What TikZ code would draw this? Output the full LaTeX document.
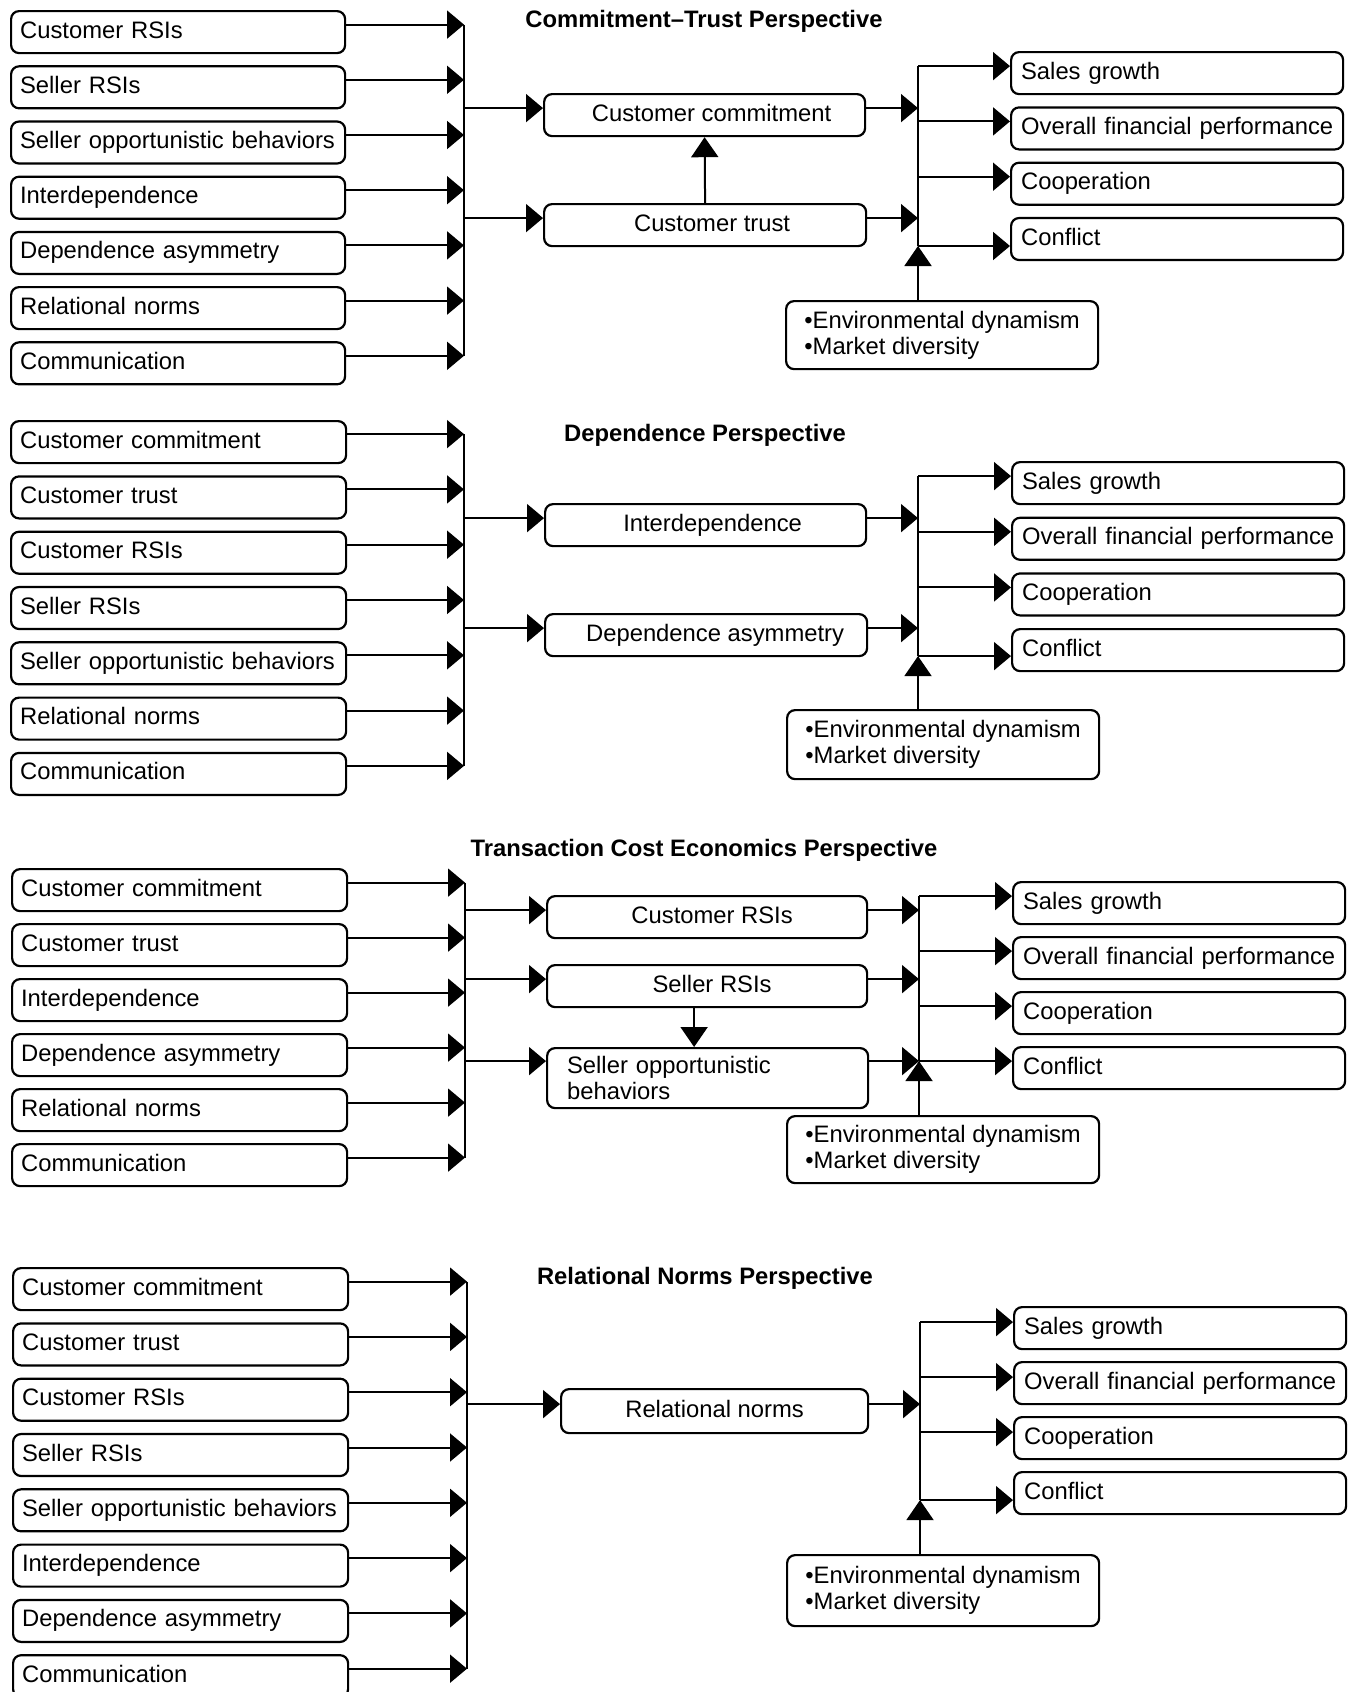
\documentclass[tikz,border=0pt]{standalone}
\usepackage{fontspec}
\setmainfont{Liberation Sans}
\usetikzlibrary{arrows.meta,calc}
\newcommand\myfs{\fontsize{23.8}{26}\selectfont}
\newcommand\myfsb{\fontsize{23.8}{26}\selectfont\bfseries}
\begin{document}
\begin{tikzpicture}[x=1pt,y=-1pt,
  ln/.style={line width=2pt},
  arr/.style={ln,-{Triangle[length=17pt,width=28pt]}},
  arrv/.style={ln,-{Triangle[length=20pt,width=27pt]}},
  bx/.style={draw,line width=2.2pt,rounded corners=8pt,minimum height=42pt,inner ysep=0pt,
    text height=17pt,text depth=5pt,font=\myfs,anchor=north west},
  lbx/.style={bx,inner xsep=9pt,align=left,text width=#1},
  rbx/.style={bx,inner xsep=10pt,align=left,text width=#1},
  mbx/.style={bx,inner xsep=2pt,minimum width=#1},
  modbx/.style={draw,line width=2.2pt,rounded corners=8pt,anchor=north west,minimum width=312pt,
    minimum height=#1,align=left,font=\myfs,inner sep=0pt},
  sobx/.style={draw,line width=2.2pt,rounded corners=8pt,anchor=north west,minimum height=60pt,
    text width=281pt,inner xsep=20pt,inner ysep=0pt,align=left,font=\myfs},
  ttl/.style={font=\myfsb,inner sep=0pt,text height=17pt,text depth=5pt}
]
\useasboundingbox (0,0) rectangle (1351,1692);
\fill[white] (0,0) rectangle (1351,1692);

%%%%%%%%%%%%%%%% Panel 1
\node[ttl] (H1) at (704,21) {Commitment–Trust Perspective};
\coordinate (J1) at (464,0);
\coordinate (K1) at (918,0);
\foreach \t [count=\i] in {Customer RSIs,Seller RSIs,Seller opportunistic behaviors,Interdependence,Dependence asymmetry,Relational norms,Communication}{
  \node[lbx=316pt] (P1L\i) at (10,{10+55.2*(\i-1)}) {\mbox{\t}};
  \coordinate (P1Ls\i) at ([yshift=7.5pt]P1L\i.east);
  \draw[arr] (P1Ls\i) -- (P1Ls\i -| J1);
}
\draw[ln] (P1Ls1 -| J1) -- (P1Ls7 -| J1);
\node[mbx=321pt] (P1C) at (543,93) {\hspace*{14pt}Customer commitment};
\node[mbx=322pt] (P1T) at (543,203) {\hspace*{14pt}Customer trust};
\coordinate (P1Cs) at ([yshift=7pt]P1C.west);
\coordinate (P1Ts) at ([yshift=7pt]P1T.west);
\draw[arr] (P1Cs -| J1) -- (P1Cs);
\draw[arr] (P1Ts -| J1) -- (P1Ts);
\draw[arrv] (P1T.north) -- (P1C.south);
\draw[arr] (P1Cs -| P1C.east) -- (P1Cs -| K1);
\draw[arr] (P1Ts -| P1T.east) -- (P1Ts -| K1);
\foreach \t [count=\i] in {Sales growth,Overall financial performance,Cooperation,Conflict}{
  \node[rbx=312pt] (P1R\i) at (1010,{51+55.3*(\i-1)}) {\mbox{\t}};
}
\foreach \i in {1,2,3}{\coordinate (P1Rs\i) at ([yshift=7pt]P1R\i.west);}
\coordinate (P1Rs4) at ([yshift=-7pt]P1R4.west);
\foreach \i in {1,...,4}{\draw[arr] (P1Rs\i -| K1) -- (P1Rs\i);}
\draw[ln] (P1Rs1 -| K1) -- (P1Rs4 -| K1);
\node[modbx=68pt] (P1M) at (785,300) {•Environmental dynamism\\•Market diversity};
\draw[arrv] (P1M.north -| K1) -- (P1Rs4 -| K1);

%%%%%%%%%%%%%%%% Panel 2
\node[ttl] (H2) at (705,435) {Dependence Perspective};
\coordinate (J2) at (464,0);
\coordinate (K2) at (918,0);
\foreach \t [count=\i] in {Customer commitment,Customer trust,Customer RSIs,Seller RSIs,Seller opportunistic behaviors,Relational norms,Communication}{
  \node[lbx=317pt] (P2L\i) at (10,{420+55.3*(\i-1)}) {\mbox{\t}};
  \coordinate (P2Ls\i) at ([yshift=8pt]P2L\i.east);
  \draw[arr] (P2Ls\i) -- (P2Ls\i -| J2);
}
\draw[ln] (P2Ls1 -| J2) -- (P2Ls7 -| J2);
\node[mbx=321pt] (P2I) at (544,503) {\hspace*{14pt}Interdependence};
\node[mbx=322pt] (P2D) at (544,613) {\hspace*{18pt}Dependence asymmetry};
\coordinate (P2Is) at ([yshift=7pt]P2I.west);
\coordinate (P2Ds) at ([yshift=7pt]P2D.west);
\draw[arr] (P2Is -| J2) -- (P2Is);
\draw[arr] (P2Ds -| J2) -- (P2Ds);
\draw[arr] (P2Is -| P2I.east) -- (P2Is -| K2);
\draw[arr] (P2Ds -| P2D.east) -- (P2Ds -| K2);
\foreach \t [count=\i] in {Sales growth,Overall financial performance,Cooperation,Conflict}{
  \node[rbx=312pt] (P2R\i) at (1011,{461+55.67*(\i-1)}) {\mbox{\t}};
}
\foreach \i in {1,2,3}{\coordinate (P2Rs\i) at ([yshift=7pt]P2R\i.west);}
\coordinate (P2Rs4) at ([yshift=-6pt]P2R4.west);
\foreach \i in {1,...,4}{\draw[arr] (P2Rs\i -| K2) -- (P2Rs\i);}
\draw[ln] (P2Rs1 -| K2) -- (P2Rs4 -| K2);
\node[modbx=69pt] (P2M) at (786,709) {•Environmental dynamism\\•Market diversity};
\draw[arrv] (P2M.north -| K2) -- (P2Rs4 -| K2);

%%%%%%%%%%%%%%%% Panel 3
\node[ttl] (H3) at (704,850) {Transaction Cost Economics Perspective};
\coordinate (J3) at (465,0);
\coordinate (K3) at (919,0);
\foreach \t [count=\i] in {Customer commitment,Customer trust,Interdependence,Dependence asymmetry,Relational norms,Communication}{
  \node[lbx=317pt] (P3L\i) at (11,{868+55*(\i-1)}) {\mbox{\t}};
  \coordinate (P3Ls\i) at ([yshift=7.5pt]P3L\i.east);
  \draw[arr] (P3Ls\i) -- (P3Ls\i -| J3);
}
\draw[ln] (P3Ls1 -| J3) -- (P3Ls6 -| J3);
\node[mbx=320pt] (P3C) at (546,895) {\hspace*{10pt}Customer RSIs};
\node[mbx=320pt] (P3S) at (546,964) {\hspace*{10pt}Seller RSIs};
\node[sobx] (P3O) at (546,1047) {Seller opportunistic\\behaviors};
\coordinate (P3Cs) at ([yshift=7pt]P3C.west);
\coordinate (P3Ss) at ([yshift=7pt]P3S.west);
\coordinate (P3Os) at ([yshift=17pt]P3O.west);
\draw[arr] (P3Cs -| J3) -- (P3Cs);
\draw[arr] (P3Ss -| J3) -- (P3Ss);
\draw[arr] (P3Os -| J3) -- (P3Os);
\draw[arrv] ([xshift=-13pt]P3S.south) -- ([xshift=-13pt]P3S.south |- P3O.north);
\draw[arr] (P3Cs -| P3C.east) -- (P3Cs -| K3);
\draw[arr] (P3Ss -| P3S.east) -- (P3Ss -| K3);
\draw[arr] (P3Os -| P3O.east) -- (P3Os -| K3);
\foreach \t [count=\i] in {Sales growth,Overall financial performance,Cooperation,Conflict}{
  \node[rbx=312pt] (P3R\i) at (1012,{881+55*(\i-1)}) {\mbox{\t}};
  \coordinate (P3Rs\i) at ([yshift=7pt]P3R\i.west);
  \draw[arr] (P3Rs\i -| K3) -- (P3Rs\i);
}
\draw[ln] (P3Rs1 -| K3) -- (P3Rs4 -| K3);
\node[modbx=67pt] (P3M) at (786,1115) {•Environmental dynamism\\•Market diversity};
\draw[arrv] (P3M.north -| K3) -- (P3Rs4 -| K3);

%%%%%%%%%%%%%%%% Panel 4
\node[ttl] (H4) at (705,1278) {Relational Norms Perspective};
\coordinate (J4) at (467,0);
\coordinate (K4) at (920,0);
\foreach \t [count=\i] in {Customer commitment,Customer trust,Customer RSIs,Seller RSIs,Seller opportunistic behaviors,Interdependence,Dependence asymmetry,Communication}{
  \node[lbx=317pt] (P4L\i) at (12,{1267+55.3*(\i-1)}) {\mbox{\t}};
  \coordinate (P4Ls\i) at ([yshift=7.5pt]P4L\i.east);
  \draw[arr] (P4Ls\i) -- (P4Ls\i -| J4);
}
\draw[ln] (P4Ls1 -| J4) -- (P4Ls8 -| J4);
\node[mbx=307pt,minimum height=44pt] (P4N) at (560,1388) {Relational norms};
\coordinate (P4Ns) at ([yshift=7pt]P4N.west);
\draw[arr] (P4Ns -| J4) -- (P4Ns);
\draw[arr] (P4Ns -| P4N.east) -- (P4Ns -| K4);
\foreach \t [count=\i] in {Sales growth,Overall financial performance,Cooperation,Conflict}{
  \node[rbx=312pt] (P4R\i) at (1013,{1306+55*(\i-1)}) {\mbox{\t}};
}
\foreach \i in {1,2,3}{\coordinate (P4Rs\i) at ([yshift=6pt]P4R\i.west);}
\coordinate (P4Rs4) at ([yshift=-7pt]P4R4.west);
\foreach \i in {1,...,4}{\draw[arr] (P4Rs\i -| K4) -- (P4Rs\i);}
\draw[ln] (P4Rs1 -| K4) -- (P4Rs4 -| K4);
\node[modbx=71pt] (P4M) at (786,1554) {•Environmental dynamism\\•Market diversity};
\draw[arrv] (P4M.north -| K4) -- (P4Rs4 -| K4);
\end{tikzpicture}
\end{document}
